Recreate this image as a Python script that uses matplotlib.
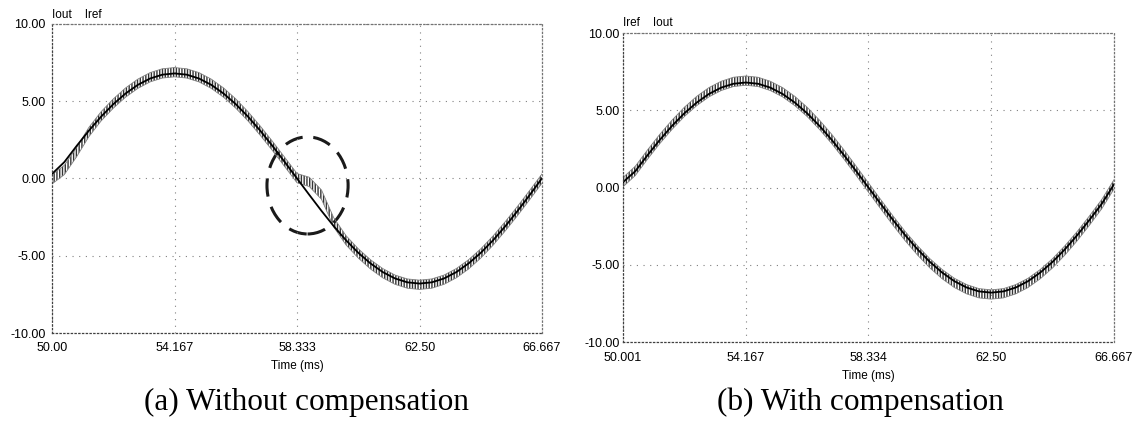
import numpy as np
import matplotlib
matplotlib.use('Agg')
import matplotlib.pyplot as plt
from matplotlib.patches import Ellipse

# time axis: 41 samples over one 60 Hz period (ms)
t_a = np.linspace(50.0, 66.667, 41)
t_b = np.linspace(50.001, 66.667, 41)

# (a) without compensation (A)
iref_a = [0.30, 1.06, 2.10, 3.09, 4.00, 4.81, 5.50, 6.06, 6.47, 6.72, 6.80,
          6.72, 6.47, 6.06, 5.50, 4.81, 4.00, 3.09, 2.10, 1.06, 0.00,
          -1.06, -2.10, -3.09, -4.00, -4.81, -5.50, -6.06, -6.47, -6.72, -6.80,
          -6.72, -6.47, -6.06, -5.50, -4.81, -4.00, -3.09, -2.10, -1.06, 0.02]
iout_a = [-0.05, 0.55, 1.70, 3.00, 4.02, 4.85, 5.56, 6.13, 6.55, 6.80, 6.88,
          6.80, 6.55, 6.13, 5.56, 4.85, 4.02, 3.09, 2.10, 1.06, 0.02,
          -0.22, -1.05, -2.85, -4.00, -4.85, -5.56, -6.13, -6.55, -6.80, -6.88,
          -6.80, -6.55, -6.13, -5.56, -4.85, -4.02, -3.09, -2.10, -1.06, 0.00]

# (b) with compensation
iref_b = [0.35, 1.06, 2.10, 3.09, 4.00, 4.81, 5.50, 6.06, 6.47, 6.72, 6.80,
          6.72, 6.47, 6.06, 5.50, 4.81, 4.00, 3.09, 2.10, 1.06, 0.00,
          -1.06, -2.10, -3.09, -4.00, -4.81, -5.50, -6.06, -6.47, -6.72, -6.80,
          -6.72, -6.47, -6.06, -5.50, -4.81, -4.00, -3.09, -2.10, -1.06, 0.20]
iout_b = [0.35, 1.08, 2.14, 3.15, 4.07, 4.90, 5.60, 6.17, 6.58, 6.84, 6.92,
          6.84, 6.58, 6.17, 5.60, 4.90, 4.07, 3.15, 2.14, 1.08, 0.00,
          -1.08, -2.14, -3.15, -4.07, -4.90, -5.60, -6.17, -6.58, -6.84, -6.92,
          -6.84, -6.58, -6.17, -5.60, -4.90, -4.07, -3.15, -2.14, -1.08, 0.20]

ripple = 0.3  # switching ripple half-width of Iout (A)

xticks_a = [50.0, 54.167, 58.333, 62.5, 66.667]
xlabels_a = ['50.00', '54.167', '58.333', '62.50', '66.667']
xticks_b = [50.001, 54.167, 58.334, 62.5, 66.667]
xlabels_b = ['50.001', '54.167', '58.334', '62.50', '66.667']
yticks = [-10, -5, 0, 5, 10]
ylabels = ['-10.00', '-5.00', '0.00', '5.00', '10.00']

plt.rcParams['font.family'] = ['Liberation Sans', 'DejaVu Sans']
plt.rcParams['hatch.linewidth'] = 1.0
plt.rcParams['hatch.color'] = '0.2'

fig = plt.figure(figsize=(11.39, 4.26), dpi=100)
ax_a = fig.add_axes([0.0457, 0.2183, 0.4302, 0.7254])
ax_b = fig.add_axes([0.547, 0.197, 0.431, 0.7254])


def draw_panel(ax, t, iref, iout, xticks, xlabels, legend, leg_pos, ypad, xpad):
    iout = np.array(iout)
    ax.fill_between(t, iout - ripple, iout + ripple, facecolor='none',
                    edgecolor='0.2', hatch='||||||', linewidth=0)
    ax.plot(t, iout - ripple, color='0.5', lw=0.6)
    ax.plot(t, iout + ripple, color='0.5', lw=0.6)
    ax.plot(t, iref, color='black', lw=1.3)

    ax.set_xlim(xticks[0], xticks[-1])
    ax.set_ylim(-10, 10)
    ax.set_xticks(xticks)
    ax.set_xticklabels(xlabels)
    ax.set_yticks(yticks)
    ax.set_yticklabels(ylabels)
    ax.tick_params(length=0, labelsize=9, colors='black')
    ax.tick_params(axis='y', pad=ypad)
    ax.tick_params(axis='x', pad=xpad)
    ax.grid(True, color='0.5', linestyle=(0, (1, 5)), linewidth=0.8)
    for side, sp in ax.spines.items():
        sp.set_linestyle((0, (1, 2)))
        sp.set_linewidth(0.9)
        sp.set_color('0.25' if side in ('left', 'bottom') else '0.45')
    ax.set_xlabel('Time (ms)', fontsize=8.5, labelpad=4)
    ax.text(leg_pos[0], leg_pos[1], legend, transform=ax.transAxes,
            fontsize=8.5, ha='left', va='bottom')


draw_panel(ax_a, t_a, iref_a, iout_a, xticks_a, xlabels_a,
           'Iout    Iref', (0.0, 1.01), 4.5, 6.5)
draw_panel(ax_b, t_b, iref_b, iout_b, xticks_b, xlabels_b,
           'Iref    Iout', (0.0, 1.012), 2.5, 7.5)

# dashed circle marking the zero-crossing distortion
ax_a.add_patch(Ellipse((58.69, -0.45), 2.76, 6.28, fill=False,
                       edgecolor='0.1', lw=2.2, linestyle=(0, (6, 3.5))))

fig.text(0.269, 1 - 402 / 426, '(a) Without compensation', ha='center',
         va='center', fontsize=22.5, family='Liberation Serif')
fig.text(0.755, 1 - 402 / 426, '(b) With compensation', ha='center',
         va='center', fontsize=22.5, family='Liberation Serif')

fig.savefig('out.png', dpi=100)
